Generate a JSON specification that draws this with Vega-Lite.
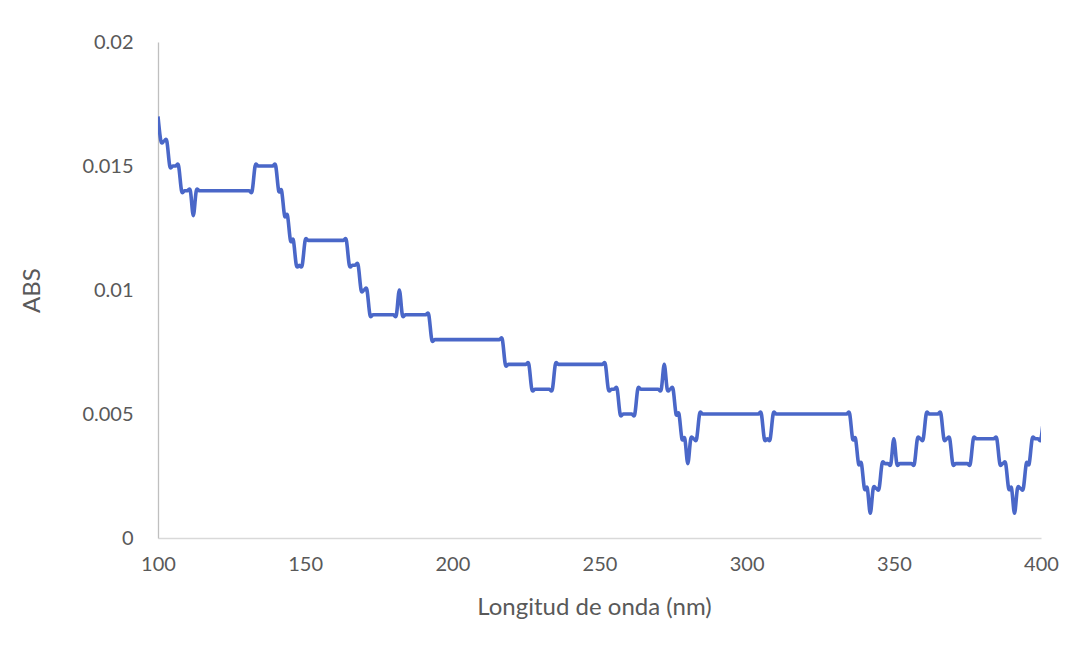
{
  "$schema": "https://vega.github.io/schema/vega-lite/v6.json",
  "width": 883,
  "height": 496,
  "autosize": {"type": "none"},
  "padding": {"left": 158, "top": 42, "right": 35, "bottom": 112},
  "background": "white",
  "config": {"view": {"stroke": null}, "font": "Lato"},
  "data": {
    "values": [
      {"nm": 100, "abs": 0.017},
      {"nm": 101, "abs": 0.016}, {"nm": 102, "abs": 0.016}, {"nm": 103, "abs": 0.016},
      {"nm": 104, "abs": 0.015}, {"nm": 105, "abs": 0.015}, {"nm": 106, "abs": 0.015}, {"nm": 107, "abs": 0.015},
      {"nm": 108, "abs": 0.014}, {"nm": 109, "abs": 0.014}, {"nm": 110, "abs": 0.014}, {"nm": 111, "abs": 0.014},
      {"nm": 112, "abs": 0.013},
      {"nm": 113, "abs": 0.014}, {"nm": 114, "abs": 0.014}, {"nm": 115, "abs": 0.014}, {"nm": 116, "abs": 0.014},
      {"nm": 117, "abs": 0.014}, {"nm": 118, "abs": 0.014}, {"nm": 119, "abs": 0.014}, {"nm": 120, "abs": 0.014},
      {"nm": 121, "abs": 0.014}, {"nm": 122, "abs": 0.014}, {"nm": 123, "abs": 0.014}, {"nm": 124, "abs": 0.014},
      {"nm": 125, "abs": 0.014}, {"nm": 126, "abs": 0.014}, {"nm": 127, "abs": 0.014}, {"nm": 128, "abs": 0.014},
      {"nm": 129, "abs": 0.014}, {"nm": 130, "abs": 0.014}, {"nm": 131, "abs": 0.014}, {"nm": 132, "abs": 0.014},
      {"nm": 133, "abs": 0.015}, {"nm": 134, "abs": 0.015}, {"nm": 135, "abs": 0.015}, {"nm": 136, "abs": 0.015},
      {"nm": 137, "abs": 0.015}, {"nm": 138, "abs": 0.015}, {"nm": 139, "abs": 0.015}, {"nm": 140, "abs": 0.015},
      {"nm": 141, "abs": 0.014}, {"nm": 142, "abs": 0.014},
      {"nm": 143, "abs": 0.013}, {"nm": 144, "abs": 0.013},
      {"nm": 145, "abs": 0.012}, {"nm": 146, "abs": 0.012},
      {"nm": 147, "abs": 0.011}, {"nm": 148, "abs": 0.011}, {"nm": 149, "abs": 0.011},
      {"nm": 150, "abs": 0.012}, {"nm": 151, "abs": 0.012}, {"nm": 152, "abs": 0.012}, {"nm": 153, "abs": 0.012},
      {"nm": 154, "abs": 0.012}, {"nm": 155, "abs": 0.012}, {"nm": 156, "abs": 0.012}, {"nm": 157, "abs": 0.012},
      {"nm": 158, "abs": 0.012}, {"nm": 159, "abs": 0.012}, {"nm": 160, "abs": 0.012}, {"nm": 161, "abs": 0.012},
      {"nm": 162, "abs": 0.012}, {"nm": 163, "abs": 0.012}, {"nm": 164, "abs": 0.012},
      {"nm": 165, "abs": 0.011}, {"nm": 166, "abs": 0.011}, {"nm": 167, "abs": 0.011}, {"nm": 168, "abs": 0.011},
      {"nm": 169, "abs": 0.010}, {"nm": 170, "abs": 0.010}, {"nm": 171, "abs": 0.010},
      {"nm": 172, "abs": 0.009}, {"nm": 173, "abs": 0.009}, {"nm": 174, "abs": 0.009}, {"nm": 175, "abs": 0.009},
      {"nm": 176, "abs": 0.009}, {"nm": 177, "abs": 0.009}, {"nm": 178, "abs": 0.009}, {"nm": 179, "abs": 0.009},
      {"nm": 180, "abs": 0.009}, {"nm": 181, "abs": 0.009},
      {"nm": 182, "abs": 0.010},
      {"nm": 183, "abs": 0.009}, {"nm": 184, "abs": 0.009}, {"nm": 185, "abs": 0.009}, {"nm": 186, "abs": 0.009},
      {"nm": 187, "abs": 0.009}, {"nm": 188, "abs": 0.009}, {"nm": 189, "abs": 0.009}, {"nm": 190, "abs": 0.009},
      {"nm": 191, "abs": 0.009}, {"nm": 192, "abs": 0.009},
      {"nm": 193, "abs": 0.008}, {"nm": 194, "abs": 0.008}, {"nm": 195, "abs": 0.008}, {"nm": 196, "abs": 0.008},
      {"nm": 197, "abs": 0.008}, {"nm": 198, "abs": 0.008}, {"nm": 199, "abs": 0.008}, {"nm": 200, "abs": 0.008},
      {"nm": 201, "abs": 0.008}, {"nm": 202, "abs": 0.008}, {"nm": 203, "abs": 0.008}, {"nm": 204, "abs": 0.008},
      {"nm": 205, "abs": 0.008}, {"nm": 206, "abs": 0.008}, {"nm": 207, "abs": 0.008}, {"nm": 208, "abs": 0.008},
      {"nm": 209, "abs": 0.008}, {"nm": 210, "abs": 0.008}, {"nm": 211, "abs": 0.008}, {"nm": 212, "abs": 0.008},
      {"nm": 213, "abs": 0.008}, {"nm": 214, "abs": 0.008}, {"nm": 215, "abs": 0.008}, {"nm": 216, "abs": 0.008},
      {"nm": 217, "abs": 0.008},
      {"nm": 218, "abs": 0.007}, {"nm": 219, "abs": 0.007}, {"nm": 220, "abs": 0.007}, {"nm": 221, "abs": 0.007},
      {"nm": 222, "abs": 0.007}, {"nm": 223, "abs": 0.007}, {"nm": 224, "abs": 0.007}, {"nm": 225, "abs": 0.007},
      {"nm": 226, "abs": 0.007},
      {"nm": 227, "abs": 0.006}, {"nm": 228, "abs": 0.006}, {"nm": 229, "abs": 0.006}, {"nm": 230, "abs": 0.006},
      {"nm": 231, "abs": 0.006}, {"nm": 232, "abs": 0.006}, {"nm": 233, "abs": 0.006}, {"nm": 234, "abs": 0.006},
      {"nm": 235, "abs": 0.007}, {"nm": 236, "abs": 0.007}, {"nm": 237, "abs": 0.007}, {"nm": 238, "abs": 0.007},
      {"nm": 239, "abs": 0.007}, {"nm": 240, "abs": 0.007}, {"nm": 241, "abs": 0.007}, {"nm": 242, "abs": 0.007},
      {"nm": 243, "abs": 0.007}, {"nm": 244, "abs": 0.007}, {"nm": 245, "abs": 0.007}, {"nm": 246, "abs": 0.007},
      {"nm": 247, "abs": 0.007}, {"nm": 248, "abs": 0.007}, {"nm": 249, "abs": 0.007}, {"nm": 250, "abs": 0.007},
      {"nm": 251, "abs": 0.007}, {"nm": 252, "abs": 0.007},
      {"nm": 253, "abs": 0.006}, {"nm": 254, "abs": 0.006}, {"nm": 255, "abs": 0.006}, {"nm": 256, "abs": 0.006},
      {"nm": 257, "abs": 0.005}, {"nm": 258, "abs": 0.005}, {"nm": 259, "abs": 0.005}, {"nm": 260, "abs": 0.005},
      {"nm": 261, "abs": 0.005}, {"nm": 262, "abs": 0.005},
      {"nm": 263, "abs": 0.006}, {"nm": 264, "abs": 0.006}, {"nm": 265, "abs": 0.006}, {"nm": 266, "abs": 0.006},
      {"nm": 267, "abs": 0.006}, {"nm": 268, "abs": 0.006}, {"nm": 269, "abs": 0.006}, {"nm": 270, "abs": 0.006},
      {"nm": 271, "abs": 0.006},
      {"nm": 272, "abs": 0.007},
      {"nm": 273, "abs": 0.006}, {"nm": 274, "abs": 0.006}, {"nm": 275, "abs": 0.006},
      {"nm": 276, "abs": 0.005}, {"nm": 277, "abs": 0.005},
      {"nm": 278, "abs": 0.004}, {"nm": 279, "abs": 0.004},
      {"nm": 280, "abs": 0.003},
      {"nm": 281, "abs": 0.004}, {"nm": 282, "abs": 0.004}, {"nm": 283, "abs": 0.004},
      {"nm": 284, "abs": 0.005}, {"nm": 285, "abs": 0.005}, {"nm": 286, "abs": 0.005}, {"nm": 287, "abs": 0.005},
      {"nm": 288, "abs": 0.005}, {"nm": 289, "abs": 0.005}, {"nm": 290, "abs": 0.005}, {"nm": 291, "abs": 0.005},
      {"nm": 292, "abs": 0.005}, {"nm": 293, "abs": 0.005}, {"nm": 294, "abs": 0.005}, {"nm": 295, "abs": 0.005},
      {"nm": 296, "abs": 0.005}, {"nm": 297, "abs": 0.005}, {"nm": 298, "abs": 0.005}, {"nm": 299, "abs": 0.005},
      {"nm": 300, "abs": 0.005}, {"nm": 301, "abs": 0.005}, {"nm": 302, "abs": 0.005}, {"nm": 303, "abs": 0.005},
      {"nm": 304, "abs": 0.005}, {"nm": 305, "abs": 0.005},
      {"nm": 306, "abs": 0.004}, {"nm": 307, "abs": 0.004}, {"nm": 308, "abs": 0.004},
      {"nm": 309, "abs": 0.005}, {"nm": 310, "abs": 0.005}, {"nm": 311, "abs": 0.005}, {"nm": 312, "abs": 0.005},
      {"nm": 313, "abs": 0.005}, {"nm": 314, "abs": 0.005}, {"nm": 315, "abs": 0.005}, {"nm": 316, "abs": 0.005},
      {"nm": 317, "abs": 0.005}, {"nm": 318, "abs": 0.005}, {"nm": 319, "abs": 0.005}, {"nm": 320, "abs": 0.005},
      {"nm": 321, "abs": 0.005}, {"nm": 322, "abs": 0.005}, {"nm": 323, "abs": 0.005}, {"nm": 324, "abs": 0.005},
      {"nm": 325, "abs": 0.005}, {"nm": 326, "abs": 0.005}, {"nm": 327, "abs": 0.005}, {"nm": 328, "abs": 0.005},
      {"nm": 329, "abs": 0.005}, {"nm": 330, "abs": 0.005}, {"nm": 331, "abs": 0.005}, {"nm": 332, "abs": 0.005},
      {"nm": 333, "abs": 0.005}, {"nm": 334, "abs": 0.005}, {"nm": 335, "abs": 0.005},
      {"nm": 336, "abs": 0.004}, {"nm": 337, "abs": 0.004},
      {"nm": 338, "abs": 0.003}, {"nm": 339, "abs": 0.003},
      {"nm": 340, "abs": 0.002}, {"nm": 341, "abs": 0.002},
      {"nm": 342, "abs": 0.001},
      {"nm": 343, "abs": 0.002}, {"nm": 344, "abs": 0.002}, {"nm": 345, "abs": 0.002},
      {"nm": 346, "abs": 0.003}, {"nm": 347, "abs": 0.003}, {"nm": 348, "abs": 0.003}, {"nm": 349, "abs": 0.003},
      {"nm": 350, "abs": 0.004},
      {"nm": 351, "abs": 0.003}, {"nm": 352, "abs": 0.003}, {"nm": 353, "abs": 0.003}, {"nm": 354, "abs": 0.003},
      {"nm": 355, "abs": 0.003}, {"nm": 356, "abs": 0.003}, {"nm": 357, "abs": 0.003},
      {"nm": 358, "abs": 0.004}, {"nm": 359, "abs": 0.004}, {"nm": 360, "abs": 0.004},
      {"nm": 361, "abs": 0.005}, {"nm": 362, "abs": 0.005}, {"nm": 363, "abs": 0.005}, {"nm": 364, "abs": 0.005},
      {"nm": 365, "abs": 0.005}, {"nm": 366, "abs": 0.005},
      {"nm": 367, "abs": 0.004}, {"nm": 368, "abs": 0.004}, {"nm": 369, "abs": 0.004},
      {"nm": 370, "abs": 0.003}, {"nm": 371, "abs": 0.003}, {"nm": 372, "abs": 0.003}, {"nm": 373, "abs": 0.003},
      {"nm": 374, "abs": 0.003}, {"nm": 375, "abs": 0.003}, {"nm": 376, "abs": 0.003},
      {"nm": 377, "abs": 0.004}, {"nm": 378, "abs": 0.004}, {"nm": 379, "abs": 0.004}, {"nm": 380, "abs": 0.004},
      {"nm": 381, "abs": 0.004}, {"nm": 382, "abs": 0.004}, {"nm": 383, "abs": 0.004}, {"nm": 384, "abs": 0.004},
      {"nm": 385, "abs": 0.004},
      {"nm": 386, "abs": 0.003}, {"nm": 387, "abs": 0.003}, {"nm": 388, "abs": 0.003},
      {"nm": 389, "abs": 0.002}, {"nm": 390, "abs": 0.002},
      {"nm": 391, "abs": 0.001},
      {"nm": 392, "abs": 0.002}, {"nm": 393, "abs": 0.002}, {"nm": 394, "abs": 0.002},
      {"nm": 395, "abs": 0.003}, {"nm": 396, "abs": 0.003},
      {"nm": 397, "abs": 0.004}, {"nm": 398, "abs": 0.004}, {"nm": 399, "abs": 0.004}, {"nm": 400, "abs": 0.004},
      {"nm": 401, "abs": 0.005}
    ]
  },
  "mark": {
    "type": "line",
    "interpolate": "cardinal",
    "tension": 0,
    "color": "#4A67C8",
    "strokeWidth": 3.6,
    "clip": true
  },
  "encoding": {
    "x": {
      "field": "nm",
      "type": "quantitative",
      "scale": {"domain": [100, 400], "nice": false, "zero": false},
      "axis": {
        "title": "Longitud de onda (nm)",
        "values": [100, 150, 200, 250, 300, 350, 400],
        "grid": false,
        "ticks": false,
        "domainColor": "#d9d9d9",
        "domainWidth": 1.3,
        "labelFontSize": 20,
        "labelColor": "#595959",
        "labelPadding": 16,
        "labelFlush": false,
        "labelOverlap": false,
        "titleFontSize": 24,
        "titleFontWeight": "normal",
        "titleColor": "#595959",
        "titleX": 436,
        "titleY": 69,
        "titleAlign": "center",
        "titleBaseline": "middle"
      }
    },
    "y": {
      "field": "abs",
      "type": "quantitative",
      "scale": {"domain": [0, 0.02], "nice": false},
      "axis": {
        "title": "ABS",
        "values": [0, 0.005, 0.01, 0.015, 0.02],
        "format": "~g",
        "grid": false,
        "ticks": false,
        "domainColor": "#bfbfbf",
        "domainWidth": 1.3,
        "labelFontSize": 20,
        "labelColor": "#595959",
        "labelPadding": 25,
        "labelOverlap": false,
        "titleFontSize": 24,
        "titleFontWeight": "normal",
        "titleColor": "#595959",
        "titleX": -126,
        "titleY": 248,
        "titleAlign": "center",
        "titleBaseline": "middle"
      }
    }
  }
}
